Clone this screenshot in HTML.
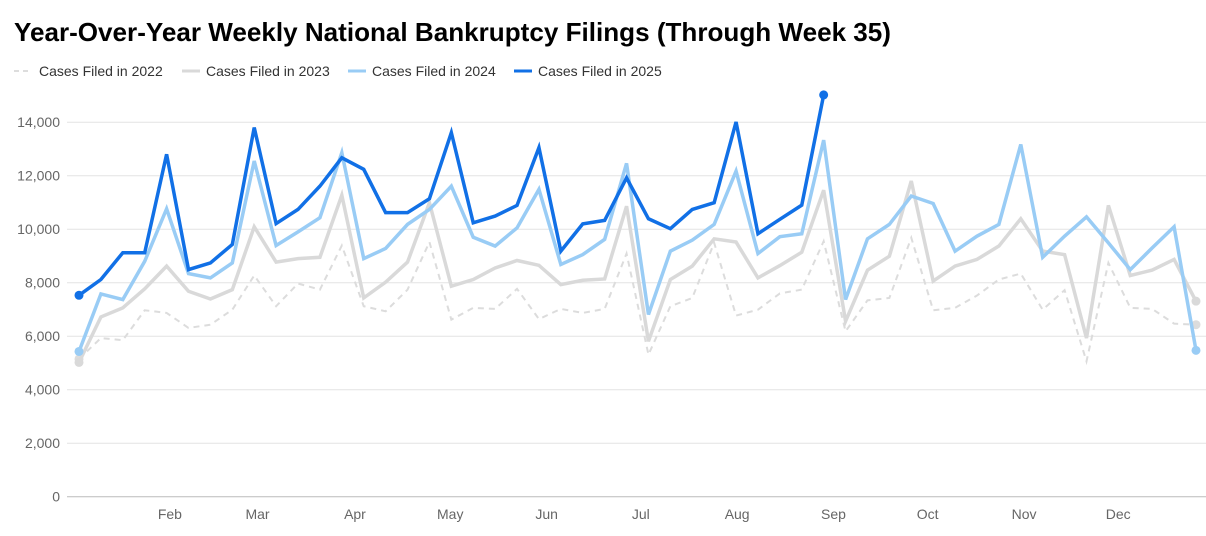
<!DOCTYPE html>
<html><head><meta charset="utf-8"><style>
body{margin:0;background:#fff;font-family:"Liberation Sans",sans-serif;}
svg text{font-family:"Liberation Sans",sans-serif;}
</style></head><body>
<svg id="c" width="1206" height="531">
<text x="14" y="41" font-size="26" font-weight="bold" fill="#000" textLength="877" lengthAdjust="spacingAndGlyphs">Year-Over-Year Weekly National Bankruptcy Filings (Through Week 35)</text>
<g>
<line x1="14" y1="71" x2="32" y2="71" stroke="#ddd" stroke-width="2" stroke-dasharray="5,4"/>
<text x="39" y="76" font-size="14" fill="#333">Cases Filed in 2022</text>
<line x1="182" y1="71" x2="200" y2="71" stroke="#d9d9d9" stroke-width="3"/>
<text x="206" y="76" font-size="14" fill="#333">Cases Filed in 2023</text>
<line x1="348" y1="71" x2="366" y2="71" stroke="#99ccf5" stroke-width="3"/>
<text x="372" y="76" font-size="14" fill="#333">Cases Filed in 2024</text>
<line x1="514" y1="71" x2="532" y2="71" stroke="#1170e6" stroke-width="3"/>
<text x="538" y="76" font-size="14" fill="#333">Cases Filed in 2025</text>
</g>
<g id="grid"></g><g id="series"></g>
</svg>
<script>
const yTicks=[0,2000,4000,6000,8000,10000,12000,14000];
const months=["Feb","Mar","Apr","May","Jun","Jul","Aug","Sep","Oct","Nov","Dec"];
const monthPos=[4.15,8.15,12.6,16.95,21.35,25.65,30.05,34.45,38.75,43.15,47.45];
const s2022=[5150,5930,5850,6970,6870,6310,6430,6990,8270,7120,7970,7740,9390,7120,6930,7740,9520,6620,7060,7020,7770,6640,7020,6870,7020,9090,5310,7120,7430,9490,6770,6990,7600,7740,9550,6180,7340,7430,9680,6970,7060,7520,8120,8340,6990,7720,5060,8740,7060,7020,6470,6430];
const s2023=[5020,6720,7060,7770,8620,7680,7390,7740,10090,8770,8900,8950,11270,7430,8020,8770,10990,7870,8120,8550,8830,8650,7930,8090,8140,10860,5810,8120,8620,9640,9520,8180,8640,9140,11460,6560,8470,8990,11800,8060,8620,8870,9370,10390,9180,9050,5930,10890,8270,8470,8870,7310];
const s2024=[5430,7580,7370,8800,10760,8340,8180,8740,12550,9390,9900,10430,12860,8900,9280,10180,10740,11610,9700,9370,10050,11490,8680,9050,9620,12460,6810,9180,9590,10180,12170,9090,9720,9830,13330,7370,9640,10180,11240,10960,9180,9740,10180,13170,8950,9740,10460,9490,8490,9300,10090,5470];
const s2025=[7530,8120,9120,9120,12800,8490,8740,9430,13800,10210,10740,11610,12670,12240,10620,10620,11140,13610,10240,10490,10890,13050,9180,10200,10330,11920,10390,10020,10740,10990,14010,9830,10370,10900,15020];
const NS="http://www.w3.org/2000/svg";
const x=i=>79+i*(1196-79)/51;
const y=v=>496.7-v*(374.5/14000);
const grid=document.getElementById('grid'),ser=document.getElementById('series');
function mk(tag,at,parent){const e=document.createElementNS(NS,tag);for(const k in at)e.setAttribute(k,at[k]);parent.appendChild(e);return e;}
yTicks.forEach(t=>{
 const l=mk('line',{x1:67,x2:1206,y1:y(t),y2:y(t),stroke:t===0?'#bbb':'#e3e3e3','stroke-width':1},grid);
 
 
 const tx=mk('text',{x:60,y:y(t)+5,'font-size':14,fill:'#666','text-anchor':'end'},grid);
 tx.textContent=t.toLocaleString('en-US');
 
 
});
months.forEach((m,i)=>{
 const tx=mk('text',{x:x(monthPos[i]),y:519,'font-size':14,fill:'#666','text-anchor':'middle'},grid);
 tx.textContent=m;
 
 
});
function draw(data,color,w,dash,name){
 const p=mk('polyline',{points:data.map((v,i)=>x(i)+','+y(v)).join(' '),fill:'none',stroke:color,'stroke-width':w,'stroke-linejoin':'miter'},ser);
 if(dash)p.setAttribute('stroke-dasharray',dash);
 
 
 [0,data.length-1].forEach(i=>{
  const c=mk('circle',{cx:x(i),cy:y(data[i]),r:4.5,fill:color},ser);
  
  
 });
}
draw(s2022,'#dcdcdc',2,'6,5','series-2022');
draw(s2023,'#d9d9d9',3.5,null,'series-2023');
draw(s2024,'#99ccf5',3.5,null,'series-2024');
draw(s2025,'#1170e6',3.5,null,'series-2025');
</script>
</body></html>
